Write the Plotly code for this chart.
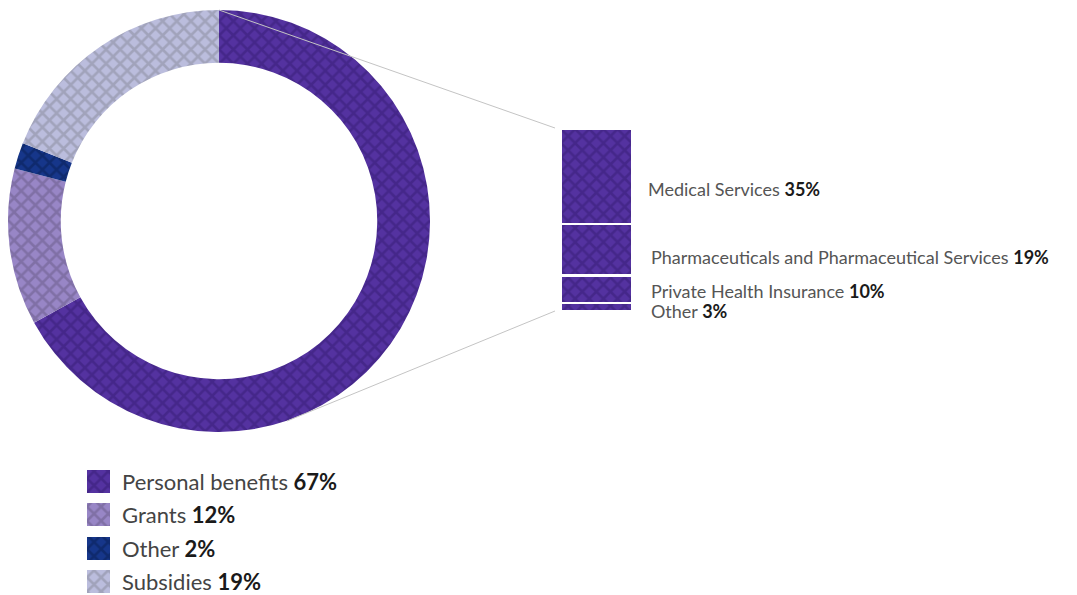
import plotly.graph_objects as go

W, H = 1077, 595

# ---- data ----
pie_labels = ["Personal benefits", "Grants", "Other", "Subsidies"]
pie_values = [67, 12, 2, 19]
pie_colors = ["#5432a0", "#9886c6", "#16368a", "#bbbddd"]
pie_pattern = ["#45278a", "#8070a6", "#0f2a6e", "#a1a3bb"]

bar_labels = ["Medical Services", "Pharmaceuticals and Pharmaceutical Services",
              "Private Health Insurance", "Other"]
bar_values = [35, 19, 10, 3]
bar_label_y = [189, 257, 291, 311]  # label positions (px from top)
bar_label_x = [646, 649, 649, 649]

leg_rows = [0, 1, 2, 3]

def px(x):
    return x / W

def py(y):
    return 1 - y / H

PAT = dict(shape="x", size=10, solidity=0.45)

fig = go.Figure()

fig.add_trace(go.Pie(
    labels=pie_labels, values=pie_values, hole=0.75, sort=False,
    direction="clockwise", rotation=0, textinfo="none", showlegend=False,
    hoverinfo="label+percent",
    marker=dict(colors=pie_colors, line=dict(width=0),
                pattern=dict(fgcolor=pie_pattern, bgcolor=pie_colors, fillmode="replace", **PAT)),
    domain=dict(x=[px(8), px(430)], y=[py(432), py(10)]),
))

# stacked bar, bottom to top
for lab, val in list(zip(bar_labels, bar_values))[::-1]:
    fig.add_trace(go.Bar(
        x=[0], y=[val], name=lab, width=1, showlegend=False,
        marker=dict(color=pie_colors[0], line=dict(color="white", width=2.5),
                    pattern=dict(fgcolor=pie_pattern[0], bgcolor=pie_colors[0], fillmode="replace", **PAT)),
        xaxis="x", yaxis="y",
    ))

# legend swatches as small horizontal bars
for r, col, pcol in zip(leg_rows, pie_colors, pie_pattern):
    fig.add_trace(go.Bar(
        y=[r], x=[1], orientation="h", width=23 / 33.5,
        showlegend=False, hoverinfo="skip",
        marker=dict(color=col, line=dict(width=0),
                    pattern=dict(fgcolor=pcol, bgcolor=col, fillmode="replace", **PAT)),
        xaxis="x2", yaxis="y2",
    ))

total = sum(bar_values)
leg_top = 464.25
leg_step = 33.5
fig.update_layout(
    barmode="stack",
    width=W, height=H,
    margin=dict(l=0, r=0, t=0, b=0),
    paper_bgcolor="white", plot_bgcolor="white",
    xaxis=dict(domain=[px(561), px(632)], range=[-0.5, 0.5], visible=False, fixedrange=True),
    yaxis=dict(domain=[py(311), py(129)], range=[0, total], visible=False, fixedrange=True),
    xaxis2=dict(domain=[px(87), px(110)], range=[0, 1], visible=False, fixedrange=True),
    yaxis2=dict(domain=[0, py(leg_top)], range=[(H - leg_top) / leg_step - 0.5, -0.5],
                visible=False, fixedrange=True),
    font=dict(family="Lato", color="#444"),
)

# connector lines
line_style = dict(color="#c4c4c4", width=1)
fig.add_shape(type="line", xref="paper", yref="paper",
              x0=px(219), y0=py(10), x1=px(555), y1=py(128), line=line_style)
fig.add_shape(type="line", xref="paper", yref="paper",
              x0=px(287), y0=py(421), x1=px(555), y1=py(311), line=line_style)

# bar labels
for lab, val, yy, xx in zip(bar_labels, bar_values, bar_label_y, bar_label_x):
    fig.add_annotation(
        xref="paper", yref="paper", x=px(xx), y=py(yy), xanchor="left", yanchor="middle",
        text=f"{lab} <b><span style='color:#1a1a1a'>{val}%</span></b>", showarrow=False,
        font=dict(size=18, color="#555", family="Lato"),
    )

# legend labels
for lab, val, r in zip(pie_labels, pie_values, leg_rows):
    fig.add_annotation(
        xref="x2", yref="y2", x=1, y=r, xshift=10, xanchor="left", yanchor="middle",
        text=f"{lab} <b><span style='color:#1a1a1a'>{val}%</span></b>", showarrow=False,
        font=dict(size=22, color="#444", family="Lato"),
    )

fig.write_html("out.html")
